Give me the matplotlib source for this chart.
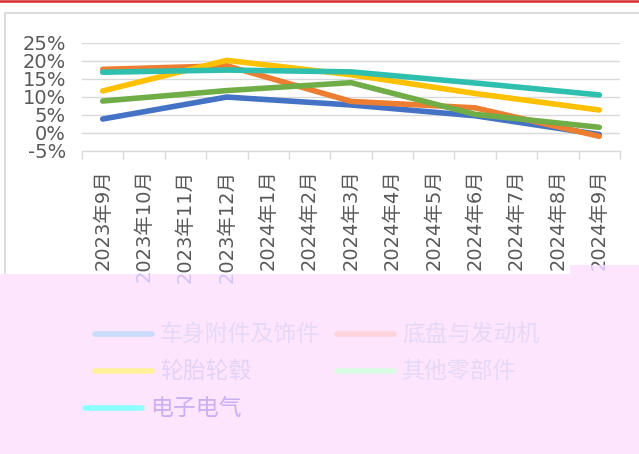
import matplotlib
matplotlib.use("Agg")
import matplotlib.pyplot as plt
import matplotlib.ticker as mticker
from matplotlib.patches import Polygon, Rectangle
from matplotlib.lines import Line2D
from matplotlib.transforms import offset_copy, Bbox, TransformedBbox

plt.rcParams['font.family'] = ['DejaVu Sans', 'Noto Sans CJK SC']

months = ["2023年9月", "2023年10月", "2023年11月", "2023年12月",
          "2024年1月", "2024年2月", "2024年3月", "2024年4月",
          "2024年5月", "2024年6月", "2024年7月", "2024年8月", "2024年9月"]
data_months = ["2023年9月", "2023年12月", "2024年3月", "2024年6月", "2024年9月"]

names = ["车身附件及饰件", "底盘与发动机", "轮胎轮毂", "其他零部件", "电子电气"]
body   = [3.8, 9.9, 7.7, 4.7, -0.5]
chassis = [17.6, 18.6, 8.7, 6.9, -1.0]
tyres  = [11.6, 20.1, 16.1, 10.9, 6.3]
others = [8.8, 11.7, 13.9, 5.1, 1.5]
elec   = [16.8, 17.4, 16.9, 13.8, 10.5]
series = [body, chassis, tyres, others, elec]

colors = ["#4472C4", "#ED7D31", "#FFC000", "#70AD47", "#2FBFAE"]
faded = ["#c9dcfb", "#ffd3dc", "#fff09a", "#d9fbe3", "#8cffff"]
legend_text = ["#e6d8f7", "#e6d8f7", "#e2d3f6", "#e6d8f7", "#c8b0f2"]

W, H = 639, 454
fig = plt.figure(figsize=(W / 100, H / 100), dpi=100)
ax = fig.add_axes([82 / W, 1 - 150.7 / H, (620 - 82) / W, (150.7 - 42.7) / H])

xs = [months.index(m) for m in data_months]
for vals, c in zip(series, colors):
    ax.plot(xs, vals, color=c, lw=4.0, solid_capstyle="round",
            solid_joinstyle="round", zorder=3)

ax.set_xlim(-0.5, len(months) - 0.5)
ax.set_ylim(-5, 25)
ax.set_yticks(range(-5, 30, 5))
ax.yaxis.set_major_formatter(mticker.FuncFormatter(lambda v, _: f"{v:.0f}%"))
ax.set_xticks(range(len(months)))
ax.set_xticklabels(months, rotation=90)
ax.set_xticks([i - 0.5 for i in range(len(months) + 1)], minor=True)
LABEL_PAD, LABEL_SIZE = 13.5, 14
ax.tick_params(axis="x", which="major", length=0, pad=LABEL_PAD, labelsize=LABEL_SIZE,
               labelcolor="#595959")
ax.tick_params(axis="x", which="minor", length=5.5, width=1.0, color="#d9d9d9")
ax.tick_params(axis="y", length=0, pad=11.5, labelsize=14, labelcolor="#595959")
ax.grid(axis="y", color="#d9d9d9", lw=1.0)
ax.set_axisbelow(True)
for s in ["top", "right", "left"]:
    ax.spines[s].set_visible(False)
ax.spines["bottom"].set_color("#d9d9d9")
ax.spines["bottom"].set_linewidth(1.0)

# chart area border and red top rule
fig.add_artist(Rectangle((5 / W, -0.1), 1.1, 1.1 - 13 / H, transform=fig.transFigure,
                         fill=False, ec="#d9d9d9", lw=1.3, zorder=-1))
fig.add_artist(Line2D([0, 1], [1 - 1.2 / H, 1 - 1.2 / H], transform=fig.transFigure,
                      color="#d92b2b", lw=1.8))

# pink overlay over the lower part
y_low, y_high, x_step = 1 - 274 / H, 1 - 265 / H, 570 / W
pink = Polygon([(0, 0), (1, 0), (1, y_high), (x_step, y_high),
                (x_step, y_low), (0, y_low)],
               closed=True, transform=fig.transFigure, fc="#fde5fd", ec="none", zorder=10)
fig.add_artist(pink)

# tick label parts under the overlay show through faintly
trans = offset_copy(ax.get_xaxis_transform(), fig=fig, y=-LABEL_PAD, units="points")
box_low = TransformedBbox(Bbox([[0, 0], [1, y_low]]), fig.transFigure)
box_high = TransformedBbox(Bbox([[x_step, 0], [1, y_high]]), fig.transFigure)
for i, m in enumerate(months):
    t = fig.text(i, 0, m, transform=trans, rotation=90, ha="center", va="top",
                 fontsize=LABEL_SIZE, color="#cfc4f5", zorder=11)
    t.set_clip_on(True)
    t.set_clip_box(box_high if i == len(months) - 1 else box_low)

# legend
lfont = ['Noto Sans CJK SC', 'DejaVu Sans']
rows = [334, 371, 408]
slots = [(95, 0), (337, 0), (95, 1), (337, 1), (85, 2)]
for name, fc, tc, (x0, r) in zip(names, faded, legend_text, slots):
    y = 1 - rows[r] / H
    fig.add_artist(Line2D([x0 / W, (x0 + 57) / W], [y, y], transform=fig.transFigure,
                          color=fc, lw=4, solid_capstyle="round", zorder=12))
    fig.text((x0 + 65) / W, y, name, ha="left", va="center", fontsize=16.5,
             color=tc, family=lfont, zorder=12)

fig.savefig("out.png", dpi=100)
